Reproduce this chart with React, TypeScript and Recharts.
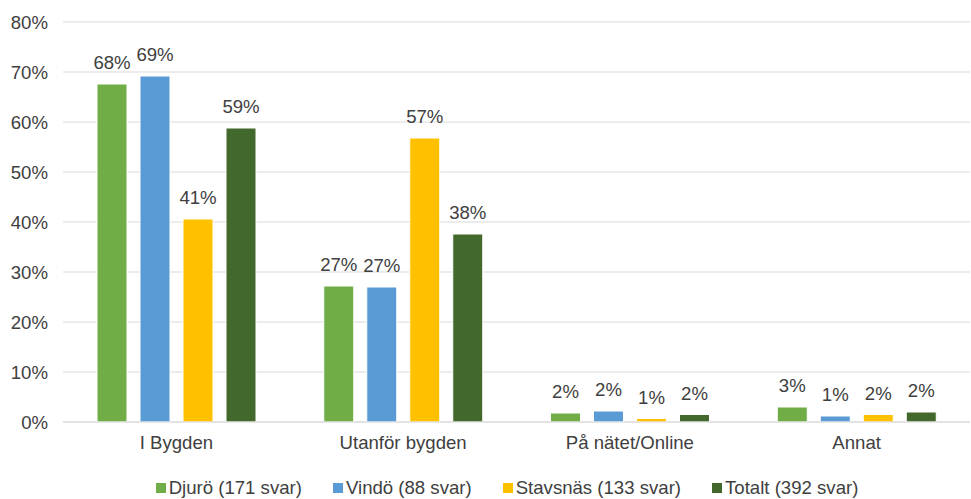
import React from 'react';
import { BarChart, Bar, XAxis, YAxis, CartesianGrid, LabelList, Legend } from 'recharts';

const categories = ['I Bygden', 'Utanför bygden', 'På nätet/Online', 'Annat'];
const djuro = [67.6, 27.2, 1.8, 3.0];
const vindo = [69.2, 27.0, 2.2, 1.2];
const stavsnas = [40.6, 56.8, 0.7, 1.5];
const totalt = [58.8, 37.6, 1.5, 2.0];
const yTicks = [0, 10, 20, 30, 40, 50, 60, 70, 80];

const series = [
  { key: 'djuro', name: 'Djurö (171 svar)', color: '#70AD47', values: djuro },
  { key: 'vindo', name: 'Vindö (88 svar)', color: '#5B9BD5', values: vindo },
  { key: 'stavsnas', name: 'Stavsnäs (133 svar)', color: '#FFC000', values: stavsnas },
  { key: 'totalt', name: 'Totalt (392 svar)', color: '#43682B', values: totalt },
];

const data = categories.map((name, i) => {
  const row: Record<string, string | number> = { name };
  series.forEach((s) => {
    row[s.key] = s.values[i];
  });
  return row;
});

const FONT = '"Liberation Sans", Arial, sans-serif';
const TEXT = '#404040';
const SIZE = 18.6;

function LegendContent() {
  return (
    <div
      style={{
        display: 'flex',
        justifyContent: 'center',
        gap: 31,
        marginLeft: 44,
        fontFamily: FONT,
        fontSize: SIZE,
        color: TEXT,
      }}
    >
      {series.map((s) => (
        <div key={s.key} style={{ display: 'flex', alignItems: 'center' }}>
          <span style={{ width: 10, height: 10, background: s.color, marginRight: 3, display: 'inline-block' }} />
          <span>{s.name}</span>
        </div>
      ))}
    </div>
  );
}

export default function App() {
  return (
    <div style={{ position: 'absolute', left: 0, top: 0, width: 971, height: 499, background: '#fff' }}>
      <BarChart
        width={971}
        height={499}
        data={data}
        margin={{ top: 22, right: 1, bottom: 0, left: 0 }}
        barSize={30}
        barGap={13}
      >
        <CartesianGrid vertical={false} stroke="#d9d9d9" />
        <XAxis
          dataKey="name"
          height={40}
          tickLine={false}
          tickSize={0}
          tickMargin={14}
          axisLine={{ stroke: '#d9d9d9' }}
          tick={{ fill: TEXT, fontSize: SIZE, fontFamily: FONT }}
        />
        <YAxis
          width={63}
          domain={[0, 80]}
          ticks={yTicks}
          tickFormatter={(v) => `${v}%`}
          axisLine={false}
          tickLine={false}
          tickSize={0}
          tickMargin={15}
          tick={{ fill: TEXT, fontSize: SIZE, fontFamily: FONT }}
        />
        <Legend
          verticalAlign="bottom"
          height={37}
          content={() => <LegendContent />}
          wrapperStyle={{ top: 477 }}
        />
        {series.map((s) => (
          <Bar
            key={s.key}
            dataKey={s.key}
            name={s.name}
            fill={s.color}
            stroke="#fff"
            strokeWidth={1}
            isAnimationActive={false}
          >
            <LabelList
              dataKey={s.key}
              position="top"
              offset={15}
              formatter={(v: number) => `${Math.round(v)}%`}
              style={{ fill: TEXT, fontSize: SIZE, fontFamily: FONT }}
            />
          </Bar>
        ))}
      </BarChart>
    </div>
  );
}
